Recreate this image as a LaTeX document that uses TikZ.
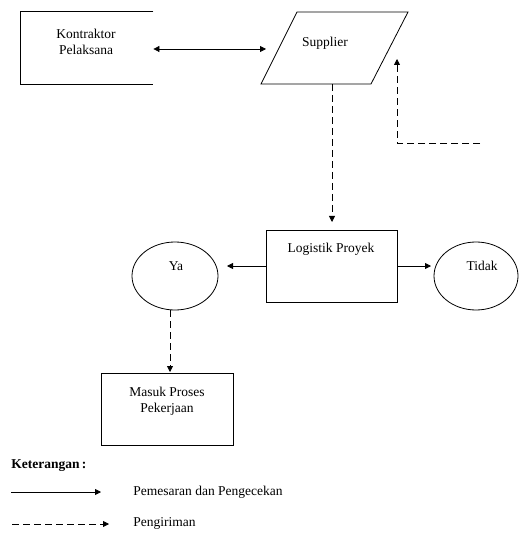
\documentclass[tikz,border=0pt]{standalone}
\usepackage{fontspec}
\setmainfont{Liberation Serif}
\usetikzlibrary{shapes.geometric,arrows.meta}
\begin{document}
\begin{tikzpicture}[x=1pt,y=-1pt,
  line width=0.8pt,
  txt/.style={font=\fontsize{13.5}{16}\selectfont, inner sep=0pt, align=center},
  boxnode/.style={draw, minimum width=#1, minimum height=72pt, inner sep=0pt},
  ell/.style={draw, ellipse, minimum width=86pt, minimum height=68pt, inner sep=0pt},
  arr/.style={-{Triangle[length=6pt,width=6pt]}},
  darr/.style={-{Triangle[length=6pt,width=6pt]}, dash pattern=on 7pt off 4pt},
  dline/.style={dash pattern=on 7pt off 4pt}]
\useasboundingbox (0,0) rectangle (518,534);
% Kontraktor (open on the right)
\node[minimum width=132pt, minimum height=72pt, inner sep=0pt] (k) at (87,48) {};
\draw (k.north east) -- (k.north west) -- (k.south west) -- (k.south east);
\node[txt] (kt) at (86,42) {Kontraktor\\Pelaksana};
% Supplier parallelogram
\coordinate (s1) at (261,84);
\coordinate (s2) at (371,84);
\coordinate (s3) at (408,12);
\coordinate (s4) at (297,12);
\draw (s1) -- (s2) -- (s3) -- (s4) -- cycle;
\node[txt] (st) at (325,43) {Supplier};
\coordinate (sb) at (332,84);
\coordinate (sl) at (266,49);
% Logistik
\node[boxnode=131pt] (lg) at (331.5,266) {};
\node[txt] (lgt) at (331,249) {Logistik Proyek};
% Ellipses
\node[ell] (ya) at (175,276) {};
\node[txt] (yat) at (176,266) {Ya};
\node[ell, minimum width=84pt] (td) at (476,276) {};
\node[txt] (tdt) at (482,266) {Tidak};
% Masuk
\node[boxnode=132pt] (ms) at (167,409) {};
\node[txt] (mst) at (167,401) {Masuk Proses\\Pekerjaan};
% connectors
\draw[{Triangle[length=6pt,width=6pt]}-{Triangle[length=6pt,width=6pt]}] (k.east |- sl) -- (sl);
\coordinate (lgin) at (332,222);
\draw[darr] (sb) -- (lgin);
\coordinate (yain) at (227,266);
\coordinate (tdin) at (431,266);
\draw[arr] (lg.west) -- (yain);
\draw[arr] (lg.east) -- (tdin);
\coordinate (yaout) at (170,310);
\coordinate (msin) at (170,372);
\draw[darr] (yaout) -- (msin);
\coordinate (fb) at (480,143);
\coordinate (fbc) at (397,143);
\coordinate (fbe) at (397,59);
\draw[darr] (fb) -- (fbc) -- (fbe);
% legend
\node[font=\fontsize{13.5}{16}\selectfont\bfseries, anchor=west, inner sep=0pt] (ket) at (11,466) {Keterangan\,:};
\coordinate (l1a) at (11,492);
\coordinate (l1b) at (101,492);
\draw[arr] (l1a) -- (l1b);
\node[txt, anchor=west] (l1t) at (133,492) {Pemesaran dan Pengecekan};
\coordinate (l2a) at (12,524);
\coordinate (l2b) at (109,524);
\draw[darr] (l2a) -- (l2b);
\node[txt, anchor=west] (l2t) at (133,523) {Pengiriman};
\end{tikzpicture}
\end{document}
